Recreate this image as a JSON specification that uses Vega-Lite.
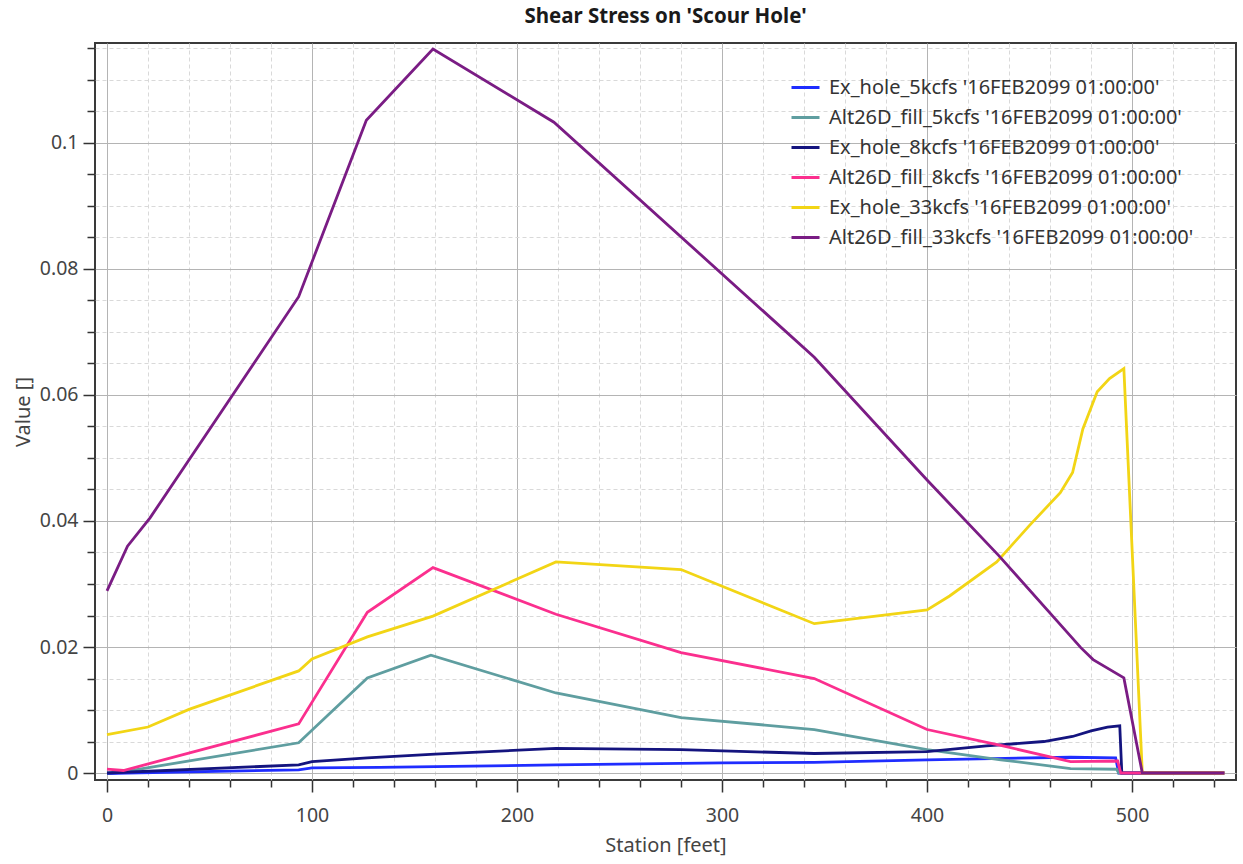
{
  "$schema": "https://vega.github.io/schema/vega-lite/v6.json",
  "autosize": "none",
  "width": 1141,
  "height": 737,
  "padding": {"left": 95, "top": 43, "right": 7, "bottom": 84},
  "background": "white",
  "title": {
    "text": "Shear Stress on 'Scour Hole'",
    "font": "Noto Sans",
    "fontSize": 20.5,
    "fontWeight": "bold",
    "color": "#1a1a1a",
    "offset": 11,
    "anchor": "middle"
  },
  "config": {
    "view": {"stroke": "#3a3a3a", "strokeWidth": 2},
    "font": "Noto Sans"
  },
  "data": {
    "values": [
      {"s": "Ex_hole_5kcfs '16FEB2099 01:00:00'", "x": 0, "y": -0.0001},
      {"s": "Ex_hole_5kcfs '16FEB2099 01:00:00'", "x": 10, "y": 0},
      {"s": "Ex_hole_5kcfs '16FEB2099 01:00:00'", "x": 93.5, "y": 0.0005},
      {"s": "Ex_hole_5kcfs '16FEB2099 01:00:00'", "x": 100, "y": 0.0008},
      {"s": "Ex_hole_5kcfs '16FEB2099 01:00:00'", "x": 133, "y": 0.0009},
      {"s": "Ex_hole_5kcfs '16FEB2099 01:00:00'", "x": 160, "y": 0.001},
      {"s": "Ex_hole_5kcfs '16FEB2099 01:00:00'", "x": 219, "y": 0.0013},
      {"s": "Ex_hole_5kcfs '16FEB2099 01:00:00'", "x": 300, "y": 0.0016},
      {"s": "Ex_hole_5kcfs '16FEB2099 01:00:00'", "x": 345, "y": 0.0017},
      {"s": "Ex_hole_5kcfs '16FEB2099 01:00:00'", "x": 400, "y": 0.0021},
      {"s": "Ex_hole_5kcfs '16FEB2099 01:00:00'", "x": 470, "y": 0.0025},
      {"s": "Ex_hole_5kcfs '16FEB2099 01:00:00'", "x": 492, "y": 0.0024},
      {"s": "Ex_hole_5kcfs '16FEB2099 01:00:00'", "x": 493.5, "y": 0},
      {"s": "Ex_hole_5kcfs '16FEB2099 01:00:00'", "x": 545, "y": 0},

      {"s": "Alt26D_fill_5kcfs '16FEB2099 01:00:00'", "x": 0, "y": 0},
      {"s": "Alt26D_fill_5kcfs '16FEB2099 01:00:00'", "x": 10, "y": 0.0003},
      {"s": "Alt26D_fill_5kcfs '16FEB2099 01:00:00'", "x": 93.5, "y": 0.0048},
      {"s": "Alt26D_fill_5kcfs '16FEB2099 01:00:00'", "x": 127, "y": 0.0151},
      {"s": "Alt26D_fill_5kcfs '16FEB2099 01:00:00'", "x": 158, "y": 0.0187},
      {"s": "Alt26D_fill_5kcfs '16FEB2099 01:00:00'", "x": 219, "y": 0.0127},
      {"s": "Alt26D_fill_5kcfs '16FEB2099 01:00:00'", "x": 280, "y": 0.0088},
      {"s": "Alt26D_fill_5kcfs '16FEB2099 01:00:00'", "x": 345, "y": 0.0069},
      {"s": "Alt26D_fill_5kcfs '16FEB2099 01:00:00'", "x": 400, "y": 0.0037},
      {"s": "Alt26D_fill_5kcfs '16FEB2099 01:00:00'", "x": 436, "y": 0.0021},
      {"s": "Alt26D_fill_5kcfs '16FEB2099 01:00:00'", "x": 470, "y": 0.0007},
      {"s": "Alt26D_fill_5kcfs '16FEB2099 01:00:00'", "x": 492.5, "y": 0.0006},
      {"s": "Alt26D_fill_5kcfs '16FEB2099 01:00:00'", "x": 493.5, "y": 0},
      {"s": "Alt26D_fill_5kcfs '16FEB2099 01:00:00'", "x": 545, "y": 0},

      {"s": "Ex_hole_8kcfs '16FEB2099 01:00:00'", "x": 0, "y": 0},
      {"s": "Ex_hole_8kcfs '16FEB2099 01:00:00'", "x": 93.5, "y": 0.0013},
      {"s": "Ex_hole_8kcfs '16FEB2099 01:00:00'", "x": 100, "y": 0.0018},
      {"s": "Ex_hole_8kcfs '16FEB2099 01:00:00'", "x": 127, "y": 0.0024},
      {"s": "Ex_hole_8kcfs '16FEB2099 01:00:00'", "x": 160, "y": 0.003},
      {"s": "Ex_hole_8kcfs '16FEB2099 01:00:00'", "x": 219, "y": 0.0039},
      {"s": "Ex_hole_8kcfs '16FEB2099 01:00:00'", "x": 280, "y": 0.0037},
      {"s": "Ex_hole_8kcfs '16FEB2099 01:00:00'", "x": 345, "y": 0.0031},
      {"s": "Ex_hole_8kcfs '16FEB2099 01:00:00'", "x": 400, "y": 0.0034},
      {"s": "Ex_hole_8kcfs '16FEB2099 01:00:00'", "x": 429, "y": 0.0043},
      {"s": "Ex_hole_8kcfs '16FEB2099 01:00:00'", "x": 457, "y": 0.005},
      {"s": "Ex_hole_8kcfs '16FEB2099 01:00:00'", "x": 471, "y": 0.0058},
      {"s": "Ex_hole_8kcfs '16FEB2099 01:00:00'", "x": 480, "y": 0.0067},
      {"s": "Ex_hole_8kcfs '16FEB2099 01:00:00'", "x": 488, "y": 0.0073},
      {"s": "Ex_hole_8kcfs '16FEB2099 01:00:00'", "x": 494, "y": 0.0075},
      {"s": "Ex_hole_8kcfs '16FEB2099 01:00:00'", "x": 495, "y": 0},
      {"s": "Ex_hole_8kcfs '16FEB2099 01:00:00'", "x": 545, "y": 0},

      {"s": "Alt26D_fill_8kcfs '16FEB2099 01:00:00'", "x": 0, "y": 0.0006},
      {"s": "Alt26D_fill_8kcfs '16FEB2099 01:00:00'", "x": 8, "y": 0.0004},
      {"s": "Alt26D_fill_8kcfs '16FEB2099 01:00:00'", "x": 93.5, "y": 0.0078},
      {"s": "Alt26D_fill_8kcfs '16FEB2099 01:00:00'", "x": 127, "y": 0.0255},
      {"s": "Alt26D_fill_8kcfs '16FEB2099 01:00:00'", "x": 159, "y": 0.0326},
      {"s": "Alt26D_fill_8kcfs '16FEB2099 01:00:00'", "x": 219, "y": 0.0252},
      {"s": "Alt26D_fill_8kcfs '16FEB2099 01:00:00'", "x": 280, "y": 0.0191},
      {"s": "Alt26D_fill_8kcfs '16FEB2099 01:00:00'", "x": 345, "y": 0.015},
      {"s": "Alt26D_fill_8kcfs '16FEB2099 01:00:00'", "x": 400, "y": 0.0069},
      {"s": "Alt26D_fill_8kcfs '16FEB2099 01:00:00'", "x": 437, "y": 0.0043},
      {"s": "Alt26D_fill_8kcfs '16FEB2099 01:00:00'", "x": 470, "y": 0.0018},
      {"s": "Alt26D_fill_8kcfs '16FEB2099 01:00:00'", "x": 493, "y": 0.0019},
      {"s": "Alt26D_fill_8kcfs '16FEB2099 01:00:00'", "x": 494.5, "y": 0},
      {"s": "Alt26D_fill_8kcfs '16FEB2099 01:00:00'", "x": 545, "y": 0},

      {"s": "Ex_hole_33kcfs '16FEB2099 01:00:00'", "x": 0, "y": 0.0061},
      {"s": "Ex_hole_33kcfs '16FEB2099 01:00:00'", "x": 20, "y": 0.0073},
      {"s": "Ex_hole_33kcfs '16FEB2099 01:00:00'", "x": 40, "y": 0.0101},
      {"s": "Ex_hole_33kcfs '16FEB2099 01:00:00'", "x": 93.5, "y": 0.0162},
      {"s": "Ex_hole_33kcfs '16FEB2099 01:00:00'", "x": 100, "y": 0.0181},
      {"s": "Ex_hole_33kcfs '16FEB2099 01:00:00'", "x": 127, "y": 0.0216},
      {"s": "Ex_hole_33kcfs '16FEB2099 01:00:00'", "x": 159, "y": 0.0249},
      {"s": "Ex_hole_33kcfs '16FEB2099 01:00:00'", "x": 219, "y": 0.0335},
      {"s": "Ex_hole_33kcfs '16FEB2099 01:00:00'", "x": 280, "y": 0.0323},
      {"s": "Ex_hole_33kcfs '16FEB2099 01:00:00'", "x": 345, "y": 0.0237},
      {"s": "Ex_hole_33kcfs '16FEB2099 01:00:00'", "x": 400, "y": 0.0259},
      {"s": "Ex_hole_33kcfs '16FEB2099 01:00:00'", "x": 411, "y": 0.0281},
      {"s": "Ex_hole_33kcfs '16FEB2099 01:00:00'", "x": 434, "y": 0.0335},
      {"s": "Ex_hole_33kcfs '16FEB2099 01:00:00'", "x": 450, "y": 0.0393},
      {"s": "Ex_hole_33kcfs '16FEB2099 01:00:00'", "x": 465, "y": 0.0445},
      {"s": "Ex_hole_33kcfs '16FEB2099 01:00:00'", "x": 471, "y": 0.0477},
      {"s": "Ex_hole_33kcfs '16FEB2099 01:00:00'", "x": 476, "y": 0.0546},
      {"s": "Ex_hole_33kcfs '16FEB2099 01:00:00'", "x": 483, "y": 0.0605},
      {"s": "Ex_hole_33kcfs '16FEB2099 01:00:00'", "x": 489, "y": 0.0626},
      {"s": "Ex_hole_33kcfs '16FEB2099 01:00:00'", "x": 496, "y": 0.0642},
      {"s": "Ex_hole_33kcfs '16FEB2099 01:00:00'", "x": 505, "y": 0},
      {"s": "Ex_hole_33kcfs '16FEB2099 01:00:00'", "x": 545, "y": 0},

      {"s": "Alt26D_fill_33kcfs '16FEB2099 01:00:00'", "x": 0, "y": 0.0289},
      {"s": "Alt26D_fill_33kcfs '16FEB2099 01:00:00'", "x": 10, "y": 0.036},
      {"s": "Alt26D_fill_33kcfs '16FEB2099 01:00:00'", "x": 21, "y": 0.0405},
      {"s": "Alt26D_fill_33kcfs '16FEB2099 01:00:00'", "x": 93.5, "y": 0.0756},
      {"s": "Alt26D_fill_33kcfs '16FEB2099 01:00:00'", "x": 126.5, "y": 0.1036},
      {"s": "Alt26D_fill_33kcfs '16FEB2099 01:00:00'", "x": 159, "y": 0.1149},
      {"s": "Alt26D_fill_33kcfs '16FEB2099 01:00:00'", "x": 218, "y": 0.1033},
      {"s": "Alt26D_fill_33kcfs '16FEB2099 01:00:00'", "x": 345, "y": 0.066},
      {"s": "Alt26D_fill_33kcfs '16FEB2099 01:00:00'", "x": 400, "y": 0.0465},
      {"s": "Alt26D_fill_33kcfs '16FEB2099 01:00:00'", "x": 435, "y": 0.0345},
      {"s": "Alt26D_fill_33kcfs '16FEB2099 01:00:00'", "x": 475, "y": 0.0199},
      {"s": "Alt26D_fill_33kcfs '16FEB2099 01:00:00'", "x": 481, "y": 0.018},
      {"s": "Alt26D_fill_33kcfs '16FEB2099 01:00:00'", "x": 496, "y": 0.0151},
      {"s": "Alt26D_fill_33kcfs '16FEB2099 01:00:00'", "x": 505, "y": 0},
      {"s": "Alt26D_fill_33kcfs '16FEB2099 01:00:00'", "x": 545, "y": 0}
    ]
  },
  "mark": {"type": "line", "strokeWidth": 2.8, "clip": true},
  "encoding": {
    "x": {
      "field": "x",
      "type": "quantitative",
      "title": "Station [feet]",
      "scale": {"domain": [-5.85, 550.7], "nice": false, "zero": false},
      "axis": {
        "values": [0,20,40,60,80,100,120,140,160,180,200,220,240,260,280,300,320,340,360,380,400,420,440,460,480,500,520,540],
        "labelExpr": "datum.value % 100 === 0 ? datum.label : ''",
        "labelOverlap": false,
        "labelFlush": false,
        "labelFont": "Noto Sans",
        "labelFontSize": 19.5,
        "labelColor": "#444444",
        "labelPadding": 14,
        "domain": false,
        "tickColor": "#333333",
        "tickWidth": 1.5,
        "tickSize": {"condition": {"test": "datum.value % 100 === 0", "value": 12}, "value": 7},
        "grid": true,
        "gridColor": {"condition": {"test": "datum.value % 100 === 0", "value": "#b4b4b4"}, "value": "#d9d9d9"},
        "gridDash": {"condition": {"test": "datum.value % 100 === 0", "value": []}, "value": [4, 3]},
        "gridWidth": 1,
        "titleFont": "Noto Sans",
        "titleFontSize": 20,
        "titleFontWeight": "normal",
        "titleColor": "#444444",
        "titlePadding": 11
      }
    },
    "y": {
      "field": "y",
      "type": "quantitative",
      "title": "Value []",
      "scale": {"domain": [-0.00111, 0.11587], "nice": false, "zero": false},
      "axis": {
        "values": [0,0.005,0.01,0.015,0.02,0.025,0.03,0.035,0.04,0.045,0.05,0.055,0.06,0.065,0.07,0.075,0.08,0.085,0.09,0.095,0.1,0.105,0.11,0.115],
        "labelExpr": "abs(datum.value*50 - round(datum.value*50)) < 1e-6 ? format(datum.value, '~g') : ''",
        "labelOverlap": false,
        "labelFont": "Noto Sans",
        "labelFontSize": 19.5,
        "labelColor": "#444444",
        "labelPadding": 5,
        "domain": false,
        "tickColor": "#333333",
        "tickWidth": 1.5,
        "tickSize": {"condition": {"test": "abs(datum.value*50 - round(datum.value*50)) < 1e-6", "value": 12}, "value": 8},
        "grid": true,
        "gridColor": {"condition": {"test": "abs(datum.value*50 - round(datum.value*50)) < 1e-6", "value": "#b4b4b4"}, "value": "#d9d9d9"},
        "gridDash": {"condition": {"test": "abs(datum.value*50 - round(datum.value*50)) < 1e-6", "value": []}, "value": [4, 3]},
        "gridWidth": 1,
        "titleFont": "Noto Sans",
        "titleFontSize": 20,
        "titleFontWeight": "normal",
        "titleColor": "#444444",
        "titlePadding": 6
      }
    },
    "color": {
      "field": "s",
      "type": "nominal",
      "sort": null,
      "scale": {
        "domain": [
          "Ex_hole_5kcfs '16FEB2099 01:00:00'",
          "Alt26D_fill_5kcfs '16FEB2099 01:00:00'",
          "Ex_hole_8kcfs '16FEB2099 01:00:00'",
          "Alt26D_fill_8kcfs '16FEB2099 01:00:00'",
          "Ex_hole_33kcfs '16FEB2099 01:00:00'",
          "Alt26D_fill_33kcfs '16FEB2099 01:00:00'"
        ],
        "range": ["#1f2dff", "#5f9ea0", "#14147f", "#fb2f8e", "#f2d515", "#7a1c84"]
      },
      "legend": {
        "title": null,
        "orient": "none",
        "legendX": 695,
        "legendY": 29,
        "symbolType": "stroke",
        "symbolSize": 784,
        "symbolStrokeWidth": 3,
        "labelFont": "Noto Sans",
        "labelFontSize": 20,
        "labelColor": "#333333",
        "labelOffset": 8,
        "labelLimit": 600,
        "rowPadding": 4
      }
    },
    "order": {"field": "x", "type": "quantitative"}
  }
}
